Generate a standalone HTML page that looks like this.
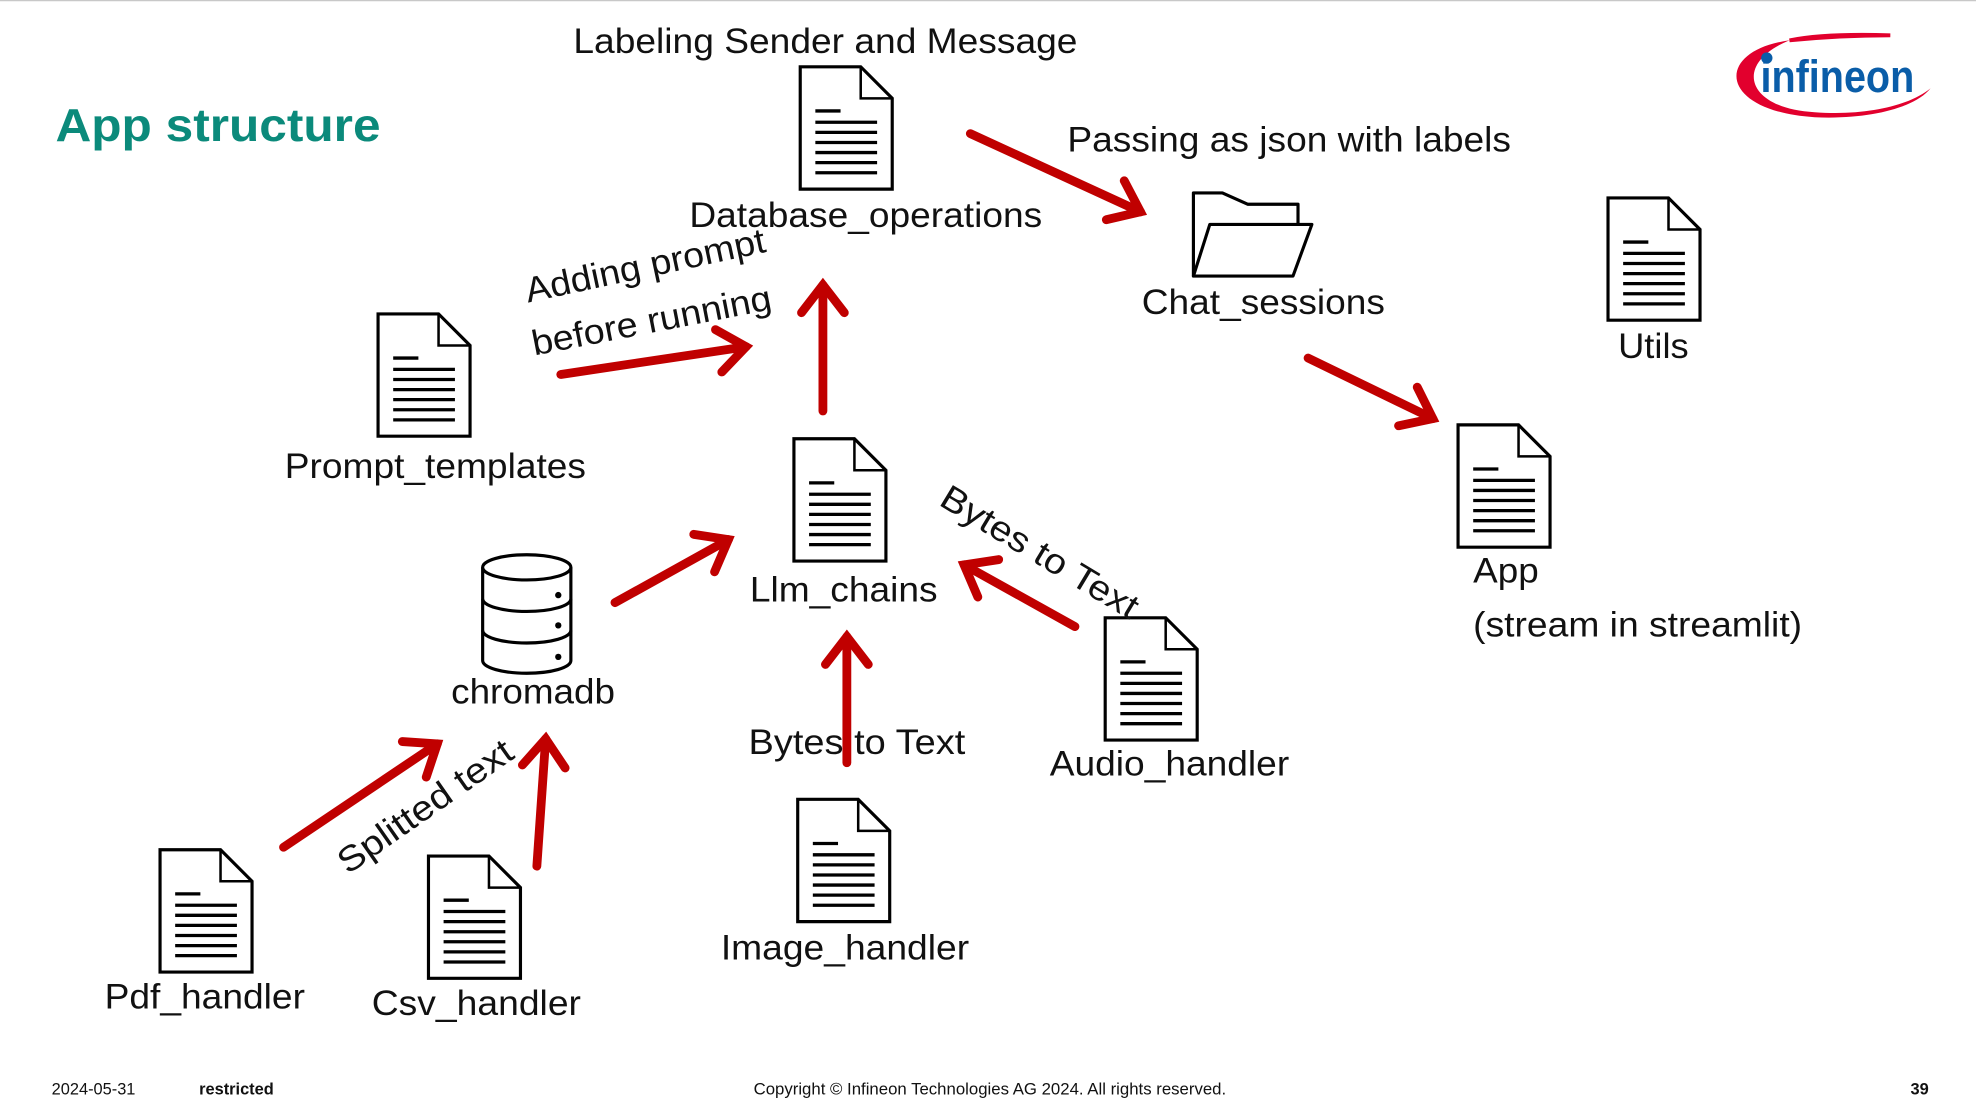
<!DOCTYPE html>
<html><head><meta charset="utf-8"><style>
html,body{margin:0;padding:0;background:#fff;}
svg{display:block}
text{font-family:"Liberation Sans",Arial,sans-serif;fill:#111}
</style></head><body>
<svg width="1976" height="1112" viewBox="0 0 1568 882" preserveAspectRatio="none" xmlns="http://www.w3.org/2000/svg">
<defs>
<symbol id="doc" overflow="visible">
<path d="M0,0 H48 L73,25 V97 H0 Z" fill="#fff" stroke="#000" stroke-width="2.5"/>
<path d="M48,0 V25 H73" fill="none" stroke="#000" stroke-width="2"/>
<g stroke="#000" stroke-width="2.6">
<line x1="12" y1="35" x2="32" y2="35"/>
<line x1="12" y1="44" x2="61" y2="44"/>
<line x1="12" y1="52" x2="61" y2="52"/>
<line x1="12" y1="60" x2="61" y2="60"/>
<line x1="12" y1="68" x2="61" y2="68"/>
<line x1="12" y1="76" x2="61" y2="76"/>
<line x1="12" y1="84" x2="61" y2="84"/>
</g>
</symbol>
<marker id="ah" markerUnits="userSpaceOnUse" markerWidth="60" markerHeight="60" refX="0" refY="0" viewBox="-30 -30 60 60" orient="auto" overflow="visible">
<path d="M-22,-17 L0,0 L-22,17" fill="none" stroke="#c00000" stroke-width="7" stroke-linecap="round" stroke-linejoin="miter"/>
</marker>
</defs>
<line x1="0" y1="0.5" x2="1568" y2="0.5" stroke="#c8c8c8" stroke-width="1"/>

<text x="44" y="112" font-size="37" font-weight="bold" style="fill:#0b8a7b" textLength="258" lengthAdjust="spacingAndGlyphs">App structure</text>

<g>
<path d="M1420,32 C1360,40 1362,88 1440,93 C1485,95 1520,85 1532,70 C1515,84 1480,92 1440,89 C1385,86 1375,50 1420,32 Z" fill="#e2002d"/>
<path d="M1420,32 C1440,28 1470,27 1500,28 C1470,28 1440,30 1420,32Z" fill="#e2002d" stroke="#e2002d" stroke-width="3"/>
<circle cx="1402" cy="46" r="4.5" fill="#0a5da8"/>
<text x="1397" y="73" font-size="36" font-weight="bold" style="fill:#0a5da8" textLength="122" lengthAdjust="spacingAndGlyphs">infineon</text>
</g>

<use href="#doc" x="635" y="53"/>
<use href="#doc" x="1276" y="157"/>
<use href="#doc" x="300" y="249"/>
<use href="#doc" x="630" y="348"/>
<use href="#doc" x="1157" y="337"/>
<use href="#doc" x="877" y="490"/>
<use href="#doc" x="127" y="674"/>
<use href="#doc" x="340" y="679"/>
<use href="#doc" x="633" y="634"/>

<g fill="#fff" stroke="#000" stroke-width="2.5" stroke-linejoin="round">
<path d="M947,219 V153 H970 L990,162 H1030 V178"/>
<path d="M947,219 L960,178 H1041 L1026,219 Z"/>
</g>
<g fill="#fff" stroke="#000" stroke-width="2.5">
<path d="M383,450 V524 A35,10 0 0 0 453,524 V450"/>
<ellipse cx="418" cy="450" rx="35" ry="10"/>
<path d="M383,475 A35,10 0 0 0 453,475" fill="none"/>
<path d="M383,500 A35,10 0 0 0 453,500" fill="none"/>
</g>
<g fill="#000"><circle cx="443" cy="472" r="2.5"/><circle cx="443" cy="496" r="2.5"/><circle cx="443" cy="521" r="2.5"/></g>

<g stroke="#c00000" stroke-width="7" stroke-linecap="round" fill="none" marker-end="url(#ah)">
<line x1="770" y1="106" x2="905" y2="168"/>
<line x1="1038" y1="284" x2="1137" y2="332"/>
<line x1="445" y1="297" x2="592" y2="275"/>
<line x1="653" y1="326" x2="653" y2="226"/>
<line x1="488" y1="478" x2="578" y2="428"/>
<line x1="853" y1="497" x2="765" y2="448"/>
<line x1="672" y1="605" x2="672" y2="505"/>
<line x1="225" y1="672" x2="347" y2="590"/>
<line x1="426" y1="687" x2="433" y2="586"/>
</g>

<g font-size="28">
<text x="455" y="42" textLength="400" lengthAdjust="spacingAndGlyphs">Labeling Sender and Message</text>
<text x="547" y="180" textLength="280" lengthAdjust="spacingAndGlyphs">Database_operations</text>
<text x="847" y="120" textLength="352" lengthAdjust="spacingAndGlyphs">Passing as json with labels</text>
<text x="906" y="249" textLength="193" lengthAdjust="spacingAndGlyphs">Chat_sessions</text>
<text x="1284" y="284" textLength="56" lengthAdjust="spacingAndGlyphs">Utils</text>
<text x="226" y="379" textLength="239" lengthAdjust="spacingAndGlyphs">Prompt_templates</text>
<text x="595" y="477" textLength="149" lengthAdjust="spacingAndGlyphs">Llm_chains</text>
<text x="1169" y="462" textLength="52" lengthAdjust="spacingAndGlyphs">App</text>
<text x="1169" y="505" textLength="261" lengthAdjust="spacingAndGlyphs">(stream in streamlit)</text>
<text x="358" y="558" textLength="130" lengthAdjust="spacingAndGlyphs">chromadb</text>
<text x="594" y="598" textLength="172" lengthAdjust="spacingAndGlyphs">Bytes to Text</text>
<text x="833" y="615" textLength="190" lengthAdjust="spacingAndGlyphs">Audio_handler</text>
<text x="572" y="761" textLength="197" lengthAdjust="spacingAndGlyphs">Image_handler</text>
<text x="83" y="800" textLength="159" lengthAdjust="spacingAndGlyphs">Pdf_handler</text>
<text x="295" y="805" textLength="166" lengthAdjust="spacingAndGlyphs">Csv_handler</text>
<text transform="translate(419,240) rotate(-12)" textLength="194" lengthAdjust="spacingAndGlyphs">Adding prompt</text>
<text transform="translate(424,282) rotate(-11)" textLength="193" lengthAdjust="spacingAndGlyphs">before running</text>
<text transform="translate(744,400) rotate(31)" textLength="178" lengthAdjust="spacingAndGlyphs">Bytes to Text</text>
<text transform="translate(276,694) rotate(-35)" textLength="163" lengthAdjust="spacingAndGlyphs">Splitted text</text>
</g>

<g font-size="13">
<text x="41" y="868">2024-05-31</text>
<text x="158" y="868" font-weight="bold">restricted</text>
<text x="598" y="868" textLength="375" lengthAdjust="spacingAndGlyphs">Copyright © Infineon Technologies AG 2024. All rights reserved.</text>
<text x="1516" y="868" font-weight="bold">39</text>
</g>
</svg>
</body></html>
